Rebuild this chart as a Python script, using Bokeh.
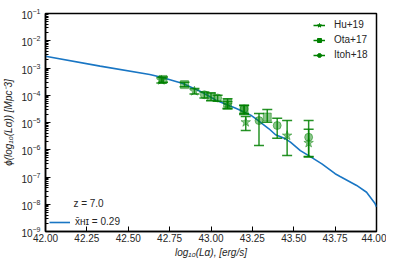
import numpy as np
from bokeh.plotting import figure
from bokeh.models import (Legend, LegendItem, FixedTicker, NumeralTickFormatter,
                          Range1d, ColumnDataSource, Label)
from bokeh.embed import file_html
from bokeh.resources import INLINE

# ---- model curve (log10 L, log10 phi) ----
model_logL = [42.00, 42.33, 42.63, 42.70, 42.83, 42.94, 43.03, 43.15, 43.24, 43.27,
              43.35, 43.39, 43.45, 43.48, 43.54, 43.60, 43.67, 43.75, 43.78, 43.88,
              43.94, 43.99, 44.00]
model_logphi = [-2.57, -2.93, -3.24, -3.34, -3.57, -3.87, -4.18, -4.48, -4.73, -4.86,
                -5.23, -5.45, -5.60, -5.72, -6.03, -6.25, -6.52, -6.88, -6.98, -7.31,
                -7.56, -7.96, -8.10]

# ---- observations (log10 L, log10 phi, lower/upper errors in dex) ----
hu_logL = [42.70, 42.90, 43.10, 43.21, 43.46, 43.59]
hu_logphi = [-3.45, -3.85, -4.35, -4.99, -5.48, -5.75]
hu_err_lo = [0.10, 0.10, 0.15, 0.30, 0.73, 0.50]
hu_err_hi = [0.10, 0.10, 0.12, 0.21, 0.55, 0.50]

ota_logL = [42.71, 42.84, 43.00, 43.10, 43.20, 43.34]
ota_logphi = [-3.42, -3.61, -4.05, -4.28, -4.52, -4.80]
ota_err_lo = [0.10, 0.08, 0.15, 0.20, 0.15, 0.19]
ota_err_hi = [0.09, 0.09, 0.13, 0.15, 0.14, 0.28]

itoh_logL = [42.96, 43.04, 43.20, 43.29, 43.40, 43.59]
itoh_logphi = [-3.98, -4.10, -4.50, -4.93, -5.11, -5.54]
itoh_err_lo = [0.12, 0.12, 0.21, 0.91, 0.47, 0.73]
itoh_err_hi = [0.10, 0.10, 0.13, 0.26, 0.27, 0.61]

series_names = ["Hu+19", "Ota+17", "Itoh+18"]
series_markers = ["star", "square", "circle"]

x_ticks = [42.00, 42.25, 42.50, 42.75, 43.00, 43.25, 43.50, 43.75, 44.00]
y_exponents = [-9, -8, -7, -6, -5, -4, -3, -2, -1]

model_label = "x\u0304\u029c\u026a = 0.29"
model_title = "z = 7.0"

FONT = "Liberation Sans"
GREEN = "#008000"
BLUE = "#1976c4"

p = figure(frame_width=331, frame_height=218, x_range=Range1d(42, 44),
           y_range=Range1d(1e-9, 1e-1), y_axis_type="log",
           output_backend="svg", toolbar_location=None,
           min_border_left=45, min_border_right=10, min_border_top=13,
           min_border_bottom=28)
p.grid.visible = False
p.outline_line_color = "black"
p.outline_line_width = 1.5

# axes
p.xaxis.ticker = FixedTicker(ticks=x_ticks)
p.xaxis.formatter = NumeralTickFormatter(format="0.00")
major_y = [10.0 ** e for e in y_exponents]
minor_y = [k * 10.0 ** e for e in y_exponents[:-1] for k in range(2, 10)]
p.yaxis.ticker = FixedTicker(ticks=major_y, minor_ticks=minor_y)

for ax in (p.xaxis, p.yaxis):
    ax.axis_line_color = "black"
    ax.axis_line_width = 1.5
    ax.major_tick_in = 5
    ax.major_tick_out = 0
    ax.major_tick_line_color = "black"
    ax.major_label_text_font = FONT
    ax.major_label_text_font_size = "10px"
    ax.major_label_text_color = "#262626"
    ax.axis_label_text_font = FONT
    ax.axis_label_text_font_size = "10px"
    ax.axis_label_text_font_style = "italic"
    ax.axis_label_text_color = "#262626"
p.xaxis.minor_tick_line_color = None
p.yaxis.minor_tick_in = 3
p.yaxis.minor_tick_out = 0
p.yaxis.minor_tick_line_color = "black"
p.xaxis.major_label_standoff = 2
p.yaxis.major_label_standoff = 5
p.xaxis.axis_label_standoff = 2
p.yaxis.axis_label_standoff = 4
p.xaxis.axis_label = "log\u2081\u2080(L\u03b1), [erg/s]"
p.yaxis.axis_label = "\u03d5(log\u2081\u2080(L\u03b1)) [Mpc\u207b3]"

# model line
model_r = p.line(model_logL, [10.0 ** v for v in model_logphi],
                 line_color=BLUE, line_width=1.6)

# observations
obs = [
    (hu_logL, hu_logphi, hu_err_lo, hu_err_hi),
    (ota_logL, ota_logphi, ota_err_lo, ota_err_hi),
    (itoh_logL, itoh_logphi, itoh_err_lo, itoh_err_hi),
]
legend_items = []
for (xs, ys, lo, hi), name, mk in zip(obs, series_names, series_markers):
    xs = np.array(xs); ys = np.array(ys); lo = np.array(lo); hi = np.array(hi)
    src = ColumnDataSource(dict(x=xs, y=10.0 ** ys, ylo=10.0 ** (ys - lo),
                                yhi=10.0 ** (ys + hi)))
    p.segment(x0="x", y0="ylo", x1="x", y1="yhi", source=src,
              line_color=GREEN, line_width=1.5, line_alpha=0.85)
    p.scatter("x", "ylo", source=src, marker="dash", size=10,
              line_color=GREEN, line_width=1.5, line_alpha=0.85)
    p.scatter("x", "yhi", source=src, marker="dash", size=10,
              line_color=GREEN, line_width=1.5, line_alpha=0.85)
    p.scatter("x", "y", source=src, marker=mk, size=8 if mk != "star" else 10,
              fill_color=GREEN, line_color=GREEN, fill_alpha=0.45, line_alpha=0.45)
    # legend-only glyphs (solid), one off-screen NaN point each
    dummy = ColumnDataSource(dict(x=[np.nan], y=[np.nan]))
    lseg = p.segment(x0="x", y0="y", x1="x", y1="y", source=dummy,
                     line_color=GREEN, line_width=1.5)
    lpt = p.scatter("x", "y", source=dummy, marker=mk, size=7 if mk != "star" else 9,
                    fill_color=GREEN, line_color=GREEN)
    legend_items.append(LegendItem(label=name, renderers=[lseg, lpt]))

leg1 = Legend(items=legend_items, location=(268, 171),
              label_text_font=FONT, label_text_font_size="10px",
              label_text_color="#262626",
              glyph_width=12, glyph_height=10, label_height=10,
              label_standoff=9, spacing=4, padding=6, margin=0,
              background_fill_alpha=0, border_line_color=None)
p.add_layout(leg1)

leg2 = Legend(items=[LegendItem(label=model_label, renderers=[model_r])],
              location="bottom_left",
              label_text_font=FONT, label_text_font_size="10px",
              label_text_color="#262626",
              glyph_width=21, glyph_height=10, label_height=10,
              label_standoff=5, spacing=4, padding=6, margin=4,
              background_fill_alpha=0, border_line_color=None)
p.add_layout(leg2)

# legend title, centred over the legend entry
title_lbl = Label(x=42.26, y=10.0 ** -7.96, text=model_title,
                  text_font=FONT, text_font_size="10px", text_color="#262626",
                  text_align="center", text_baseline="middle")
p.add_layout(title_lbl)

open("out.html", "w").write(file_html(p, INLINE))
